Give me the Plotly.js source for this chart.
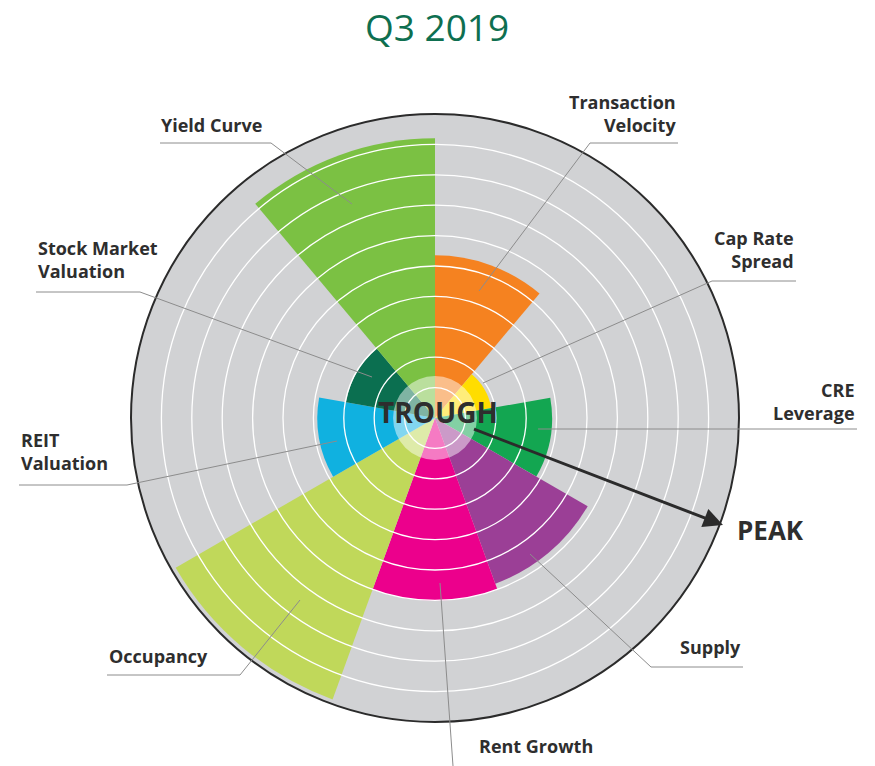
<!DOCTYPE html>
<html>
<head>
<meta charset="utf-8">
<script src="https://cdn.plot.ly/plotly-3.0.1.min.js"></script>
<style>html,body{margin:0;padding:0;background:#fff;}#chart{width:875px;height:766px;}</style>
</head>
<body>
<div id="chart"></div>
<script>
// ---- data ----
var categories = ['Transaction Velocity', 'Cap Rate Spread', 'CRE Leverage', 'Supply', 'Rent Growth',
                  'Occupancy', 'REIT Valuation', 'Stock Market Valuation', 'Yield Curve'];
var values = [5.35, 1.88, 3.85, 5.8, 6.0, 9.85, 3.87, 2.97, 9.2];
var sectorColors = ['#f58220', '#ffdd00', '#13a651', '#9b3f96', '#ec008c',
                    '#c0d85a', '#10b1e0', '#0b6f50', '#7bc143'];
var labelTexts = ['Transaction<br>Velocity', 'Cap Rate<br>Spread', 'CRE<br>Leverage', 'Supply', 'Rent Growth',
                  'Occupancy', 'REIT<br>Valuation', 'Stock Market<br>Valuation', 'Yield Curve'];
var centerRadius = [1.38];
var radialTicks = [1, 2, 3, 4, 5, 6, 7, 8, 9];
var chartTitle = 'Q3 2019';

// ---- layout helpers (pixel -> paper) ----
var W = 875, H = 766;
function px(x) { return x / W; }
function py(y) { return 1 - y / H; }
var cx = 435, cy = 418, R = 304;
var domain = { x: [px(cx - R), px(cx + R)], y: [py(cy + R), py(cy - R)] };

var textColor = '#2e2e2e';
var labelFont = { family: 'Open Sans, sans-serif', size: 18, color: textColor, weight: 700 };

// label placement: [x, y(mid), anchor]
var labelPos = [
  [678, 113, 'right'], [796, 250, 'right'], [857, 401, 'right'], [678, 647, 'left'],
  [477, 746, 'left'], [107, 656, 'left'], [19, 452, 'left'], [36, 260, 'left'], [159, 125, 'left']
];
var leaderPaths = [
  [[678, 143], [590, 143], [479, 291]],
  [[796, 281], [712, 281], [483, 383]],
  [[857, 429], [538, 429]],
  [[743, 667], [651, 667], [530, 554]],
  [[440, 583], [453, 766]],
  [[107, 675], [240, 675], [300, 600]],
  [[19, 485], [127, 485], [337, 441]],
  [[36, 292], [140, 292], [372, 377]],
  [[160, 143], [271, 143], [352, 204]]
];

var data = [
  {
    type: 'barpolar', subplot: 'polar',
    r: values, theta: categories,
    marker: { color: sectorColors, line: { width: 0 } },
    hoverinfo: 'skip'
  },
  {
    type: 'barpolar', subplot: 'polar2',
    r: centerRadius, theta: [0], width: [360],
    marker: { color: 'rgba(255,255,255,0.48)', line: { width: 0 } },
    hoverinfo: 'skip'
  },
  {
    type: 'scatterpolar', subplot: 'polar3',
    r: [0], theta: [0], mode: 'markers', marker: { opacity: 0, size: 1 },
    hoverinfo: 'skip'
  }
];

var annotations = [];
labelTexts.forEach(function (t, i) {
  var p = labelPos[i];
  annotations.push({
    xref: 'paper', yref: 'paper', x: px(p[0]), y: py(p[1]),
    xanchor: p[2], yanchor: 'middle', align: p[2],
    text: t, showarrow: false, font: labelFont
  });
});
annotations.push({
  xref: 'paper', yref: 'paper', x: px(438), y: py(412), xanchor: 'center', yanchor: 'middle',
  text: 'TROUGH', showarrow: false,
  font: { family: 'Open Sans, sans-serif', size: 28, color: textColor, weight: 700 }
});
annotations.push({
  xref: 'paper', yref: 'paper', x: px(735), y: py(530), xanchor: 'left', yanchor: 'middle',
  text: 'PEAK', showarrow: false,
  font: { family: 'Open Sans, sans-serif', size: 26, color: textColor, weight: 700 }
});
annotations.push({
  xref: 'paper', yref: 'paper', x: px(723), y: py(525),
  text: ' ', showarrow: true, ax: 471 - 723, ay: 428 - 525,
  arrowhead: 2, arrowsize: 1.3, arrowwidth: 3, arrowcolor: '#2b2b2b', standoff: 0
});
annotations.push({
  xref: 'paper', yref: 'paper', x: px(437), y: py(0), xanchor: 'center', yanchor: 'top',
  text: chartTitle, showarrow: false, borderpad: 0,
  font: { family: 'Open Sans, sans-serif', size: 37, color: '#0e6f50', weight: 400 }
});

var shapes = leaderPaths.map(function (pts) {
  var d = pts.map(function (p, k) { return (k ? 'L' : 'M') + px(p[0]) + ',' + py(p[1]); }).join(' ');
  return { type: 'path', xref: 'paper', yref: 'paper', path: d,
           line: { color: '#8c8c8c', width: 1 }, layer: 'above' };
});

var hiddenRadial = { range: [0, 10], visible: false };
var layout = {
  width: W, height: H,
  margin: { l: 0, r: 0, t: 0, b: 0 },
  paper_bgcolor: '#ffffff',
  showlegend: false,
  polar: {
    domain: domain, bgcolor: '#d1d2d4', bargap: 0,
    radialaxis: hiddenRadial,
    angularaxis: {
      type: 'category', categoryarray: categories, rotation: 70, direction: 'clockwise',
      showgrid: false, showticklabels: false, ticks: '', showline: false
    }
  },
  polar2: {
    domain: domain, bgcolor: 'rgba(0,0,0,0)',
    radialaxis: hiddenRadial,
    angularaxis: { visible: false, rotation: 90, direction: 'clockwise' }
  },
  polar3: {
    domain: domain, bgcolor: 'rgba(0,0,0,0)',
    radialaxis: {
      range: [0, 10], tickvals: radialTicks, showticklabels: false, ticks: '',
      showline: false, showgrid: true, gridcolor: '#ffffff', gridwidth: 1.3
    },
    angularaxis: {
      showgrid: false, showticklabels: false, ticks: '',
      showline: true, linecolor: '#2b2b2b', linewidth: 2
    }
  },
  annotations: annotations,
  shapes: shapes
};

Plotly.newPlot('chart', data, layout, { displayModeBar: false, staticPlot: true });
</script>
</body>
</html>
